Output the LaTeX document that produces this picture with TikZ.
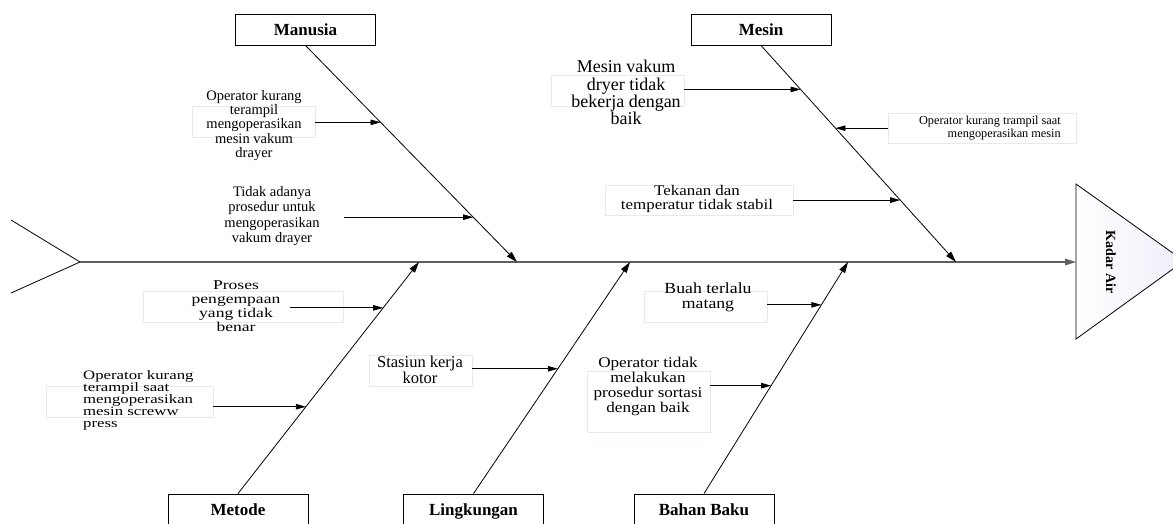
\documentclass[tikz,border=0pt]{standalone}
\usepackage{fontspec}
\setmainfont{Liberation Serif}
\newfontfamily\widefont[FakeStretch=1.15]{Liberation Serif}
\newfontfamily\widerfont[FakeStretch=1.3]{Liberation Serif}
\usepackage{tikz}
\usetikzlibrary{arrows.meta,calc}
\definecolor{faintline}{RGB}{230,233,240}
\definecolor{spinegray}{RGB}{95,95,95}
\definecolor{headfill}{RGB}{238,238,250}

\begin{document}
\begin{tikzpicture}[x=1pt,y=-1pt,
    catbox/.style={draw,line width=0.9pt,minimum width=140pt,minimum height=31pt,inner sep=0pt,
      text height=11.5pt,text depth=0.5pt,font=\fontsize{17}{17}\selectfont\bfseries},
    faintbox/.style={draw=faintline,line width=0.7pt,inner sep=0pt},
    causetext/.style={inner sep=0pt,align=center},
    bone/.style={line width=0.8pt,-{Triangle[length=11pt,width=6.5pt]}},
    causearrow/.style={line width=0.8pt,-{Triangle[length=10pt,width=5.5pt]}}]
  \useasboundingbox (0,0) rectangle (1173,523);
  \clip (0,0) rectangle (1173,523);
  % spine, fish tail and the head with the effect
  \coordinate (tail) at (80,262);
  \coordinate (tailUp) at (11,220);
  \coordinate (tailDn) at (11,293);
  \coordinate (head) at (1076,262);
  \shade[left color=white,right color=headfill] ($(head)+(0,-78)$) -- ($(head)+(108,-1)$) -- ($(head)+(0,77)$) -- cycle;
  \draw[line width=0.8pt] ($(head)+(0,-78)$) -- ($(head)+(108,-1)$) -- ($(head)+(0,77)$) -- cycle;
  \node[rotate=-90,inner sep=0pt,font=\fontsize{14}{14}\selectfont\bfseries] (kadar) at (1111,262) {Kadar Air};
  \draw[line width=0.8pt] (tailUp) -- (tail) -- (tailDn);
  \draw[line width=1.3pt,spinegray,-{Triangle[length=11pt,width=6.5pt]}] (tail) -- (head);

  % category boxes and their bones
  \foreach \nm/\x/\y/\lbl in {manusia/305.5/29.5/Manusia, mesin/761/29.5/Mesin,
      metode/238/509.5/Metode, lingkungan/473.5/509.5/Lingkungan, bahan/704/509.5/Bahan Baku}
    \node[catbox] (\nm) at (\x,\y) {\lbl};
  \coordinate (spMan) at (517,262);
  \coordinate (spMes) at (956,262);
  \coordinate (spMet) at (419,262);
  \coordinate (spLing) at (630,262);
  \coordinate (spBah) at (848,262);
  \foreach \a/\b in {manusia.south/spMan, mesin.south/spMes, metode.north/spMet,
      lingkungan.north/spLing, bahan.north/spBah}
    \draw[bone] (\a) -- (\b);

  % where the cause arrows meet the bones
  \coordinate (onMan1) at ($(manusia.south)!0.355!(spMan)$);
  \coordinate (onMan2) at ($(manusia.south)!0.793!(spMan)$);
  \coordinate (onMes1) at ($(mesin.south)!0.203!(spMes)$);
  \coordinate (onMes2) at ($(mesin.south)!0.382!(spMes)$);
  \coordinate (onMes3) at ($(mesin.south)!0.714!(spMes)$);
  \coordinate (onMet1) at ($(metode.north)!0.802!(spMet)$);
  \coordinate (onMet2) at ($(metode.north)!0.375!(spMet)$);
  \coordinate (onLing1) at ($(lingkungan.north)!0.539!(spLing)$);
  \coordinate (onBah1) at ($(bahan.north)!0.815!(spBah)$);
  \coordinate (onBah2) at ($(bahan.north)!0.466!(spBah)$);

  % Manusia
  \node[faintbox,minimum width=123pt,minimum height=31pt] (kurangBox) at (253.5,121.5) {};
  \node[causetext,font=\fontsize{14.5}{14.3}\selectfont] (kurang) at (254,125.5)
    {Operator kurang\\terampil\\mengoperasikan\\mesin vakum\\drayer};
  \node[causetext,minimum width=144pt,font=\fontsize{14.5}{15.5}\selectfont] (prosedur) at (272,216)
    {Tidak adanya\\prosedur untuk\\mengoperasikan\\vakum drayer};

  % Mesin
  \node[faintbox,minimum width=133pt,minimum height=31pt] (vakumBox) at (617.5,90.5) {};
  \node[causetext,font=\fontsize{18}{17.3}\selectfont] (vakum) at (626,92.5)
    {Mesin vakum\\dryer tidak\\bekerja dengan\\baik};
  \node[faintbox,minimum width=188pt,minimum height=30pt] (trampilBox) at (982,128) {};
  \node[causetext,align=right,anchor=east,font=\fontsize{12.3}{13}\selectfont] (trampil) at (1061,128.5)
    {Operator kurang trampil saat\\mengoperasikan mesin};
  \node[faintbox,minimum width=188pt,minimum height=30pt] (tekananBox) at (699,200) {};
  \node[causetext,font=\widefont\fontsize{14.7}{14.5}\selectfont] (tekanan) at (697,199)
    {Tekanan dan\\temperatur tidak stabil};

  % Metode
  \node[faintbox,minimum width=200pt,minimum height=31pt] (kempaBox) at (243,306.5) {};
  \node[causetext,minimum width=108pt,font=\widerfont\fontsize{13.5}{14}\selectfont] (kempa) at (236,306)
    {Proses\\pengempaan\\yang tidak\\benar};
  \node[faintbox,minimum width=167pt,minimum height=31pt] (screwBox) at (129.5,401.5) {};
  \node[causetext,align=left,anchor=west,font=\widerfont\fontsize{12.9}{11.7}\selectfont] (screw) at (83,400)
    {Operator kurang\\terampil saat\\mengoperasikan\\mesin screww\\press};

  % Lingkungan
  \node[faintbox,minimum width=103pt,minimum height=31pt] (kotorBox) at (420.5,370.5) {};
  \node[causetext,font=\fontsize{16.5}{15.7}\selectfont] (kotor) at (420,369.5) {Stasiun kerja\\kotor};

  % Bahan Baku
  \node[faintbox,minimum width=123pt,minimum height=31pt] (matangBox) at (705.5,306.5) {};
  \node[causetext,font=\widefont\fontsize{15.4}{15}\selectfont] (matang) at (708,297.5) {Buah terlalu\\matang};
  \node[faintbox,minimum width=123pt,minimum height=61pt] (sortasiBox) at (648.5,401.5) {};
  \node[causetext,font=\widefont\fontsize{14.9}{15}\selectfont] (sortasi) at (648,386.5)
    {Operator tidak\\melakukan\\prosedur sortasi\\dengan baik};

  \foreach \a/\b in {kurangBox.east/onMan1, prosedur.east/onMan2, vakumBox.east/onMes1,
      trampilBox.west/onMes2, tekananBox.east/onMes3, kempa.east/onMet1, screwBox.east/onMet2,
      kotorBox.east/onLing1, matangBox.east/onBah1, sortasiBox.east/onBah2}
    \draw[causearrow] (\a |- \b) -- (\b);
\end{tikzpicture}
\end{document}
